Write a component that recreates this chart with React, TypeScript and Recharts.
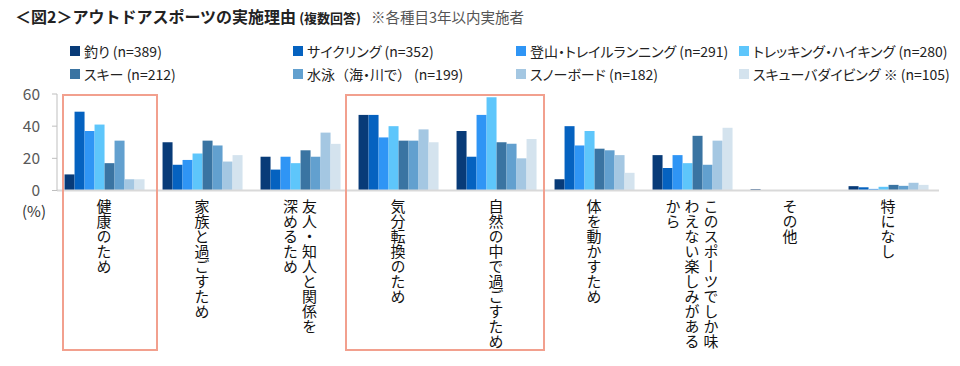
import { BarChart, Bar, XAxis, YAxis } from "recharts";

const categories = [
  "健康のため",
  "家族と過ごすため",
  "友人・知人と関係を\n深めるため",
  "気分転換のため",
  "自然の中で過ごすため",
  "体を動かすため",
  "このスポーツでしか味\nわえない楽しみがある\nから",
  "その他",
  "特になし",
];

const seriesNames = [
  "釣り (n=389)",
  "サイクリング (n=352)",
  "登山・トレイルランニング (n=291)",
  "トレッキング・ハイキング (n=280)",
  "スキー (n=212)",
  "水泳（海・川で） (n=199)",
  "スノーボード (n=182)",
  "スキューバダイビング ※ (n=105)",
];

const fishing = [10, 30, 21, 47, 37, 7, 22, 0.8, 2.7];
const cycling = [49, 16, 13, 47, 21, 40, 14, 0, 2];
const mountain = [37, 19, 21, 33, 47, 28, 22, 0, 1];
const trekking = [41, 23, 17, 40, 58, 37, 17, 0, 2.3];
const ski = [17, 31, 25, 31, 30, 26, 34, 0, 3.5];
const swim = [31, 28, 21, 31, 29, 25, 16, 0, 2.9];
const snowboard = [7, 18, 36, 38, 20, 22, 31, 0, 4.8];
const scuba = [7, 22, 29, 30, 32, 11, 39, 0, 3.5];

const yTicks = [0, 20, 40, 60];

const COLORS = [
  "#083b78",
  "#0562c0",
  "#2f95f5",
  "#5ec6fb",
  "#3a74a2",
  "#62a0cf",
  "#a4c7e2",
  "#d4e3ee",
];

const allSeries = [fishing, cycling, mountain, trekking, ski, swim, snowboard, scuba];

const data = categories.map((name, i) => {
  const row: Record<string, number | string> = { name };
  allSeries.forEach((s, k) => {
    row[`s${k}`] = s[i];
  });
  return row;
});

const FONT = "'Noto Sans CJK JP', 'Noto Sans', sans-serif";
const PLOT_LEFT = 57;
const PLOT_RIGHT = 939;
const PLOT_TOP = 94;
const PLOT_BOTTOM = 190.5;

// highlight frames around 健康のため and 気分転換/自然の中で
const frames = [
  { left: 62, right: 158 },
  { left: 345, right: 545 },
];

function CategoryTick(props: any) {
  const { x, y, payload } = props;
  const lines = String(payload.value).split("\n");
  const n = lines.length;
  return (
    <g>
      {lines.map((line, i) => (
        <text
          key={i}
          x={x - 2 + ((n - 1) / 2 - i) * 19}
          y={y}
          fill="#111"
          fontSize={15}
          fontFamily={FONT}
          style={{ writingMode: "vertical-rl" }}
        >
          {line}
        </text>
      ))}
    </g>
  );
}

// full-width brackets keep their full width, the rest is set proportional
function LegendLabel({ text }: { text: string }) {
  const parts = text.split(/([（）])/);
  return (
    <span>
      {parts.map((p, i) =>
        p === "（" || p === "）" ? (
          <span key={i} style={{ fontFeatureSettings: "normal" }}>
            {p}
          </span>
        ) : (
          <span key={i}>{p}</span>
        )
      )}
    </span>
  );
}

export default function App() {
  return (
    <div
      style={{
        position: "absolute",
        left: 0,
        top: 0,
        width: 960,
        height: 366,
        background: "#fff",
        fontFamily: FONT,
      }}
    >
      <div
        style={{
          position: "absolute",
          left: 15,
          top: 4,
          whiteSpace: "nowrap",
          color: "#222",
        }}
      >
        <span style={{ fontSize: 16, fontWeight: 700 }}>
          ＜図2＞アウトドアスポーツの実施理由
        </span>
        <span style={{ fontSize: 13, fontWeight: 700, marginLeft: 3 }}>
          (複数回答)
        </span>
        <span style={{ fontSize: 14.5, color: "#555", marginLeft: 10 }}>
          ※各種目3年以内実施者
        </span>
      </div>

      <div
        style={{
          position: "absolute",
          left: 70,
          top: 41,
          display: "grid",
          gridTemplateColumns: "223px 223px 223px 223px",
          rowGap: 4,
          fontSize: 14,
          color: "#222",
          fontFeatureSettings: "'palt'",
        }}
      >
        {seriesNames.map((s, i) => (
          <div
            key={s}
            style={{ display: "flex", alignItems: "center", whiteSpace: "nowrap", height: 19 }}
          >
            <span
              style={{
                width: 10,
                height: 10,
                background: COLORS[i],
                marginRight: 4,
                display: "inline-block",
              }}
            ></span>
            <LegendLabel text={s} />
          </div>
        ))}
      </div>

      <BarChart
        width={960}
        height={366}
        data={data}
        margin={{ top: PLOT_TOP, right: 960 - PLOT_RIGHT, bottom: 366 - PLOT_BOTTOM - 170, left: PLOT_LEFT - 40 }}
        barCategoryGap="7.7%"
        barGap={0}
        style={{ position: "absolute", left: 0, top: 0 }}
      >
        <XAxis
          dataKey="name"
          interval={0}
          height={170}
          tickLine={false}
          axisLine={{ stroke: "#d9d9d9", strokeWidth: 2 }}
          tick={<CategoryTick />}
        />
        <YAxis
          width={40}
          domain={[0, 60]}
          ticks={yTicks}
          tickSize={5}
          tickMargin={12}
          axisLine={{ stroke: "#bfbfbf" }}
          tickLine={{ stroke: "#bfbfbf" }}
          tick={{ fill: "#595959", fontSize: 15.5, fontFamily: FONT }}
        />
        {allSeries.map((_, k) => (
          <Bar
            key={k}
            dataKey={`s${k}`}
            fill={COLORS[k]}
            isAnimationActive={false}
          />
        ))}
      </BarChart>

      <div
        style={{
          position: "absolute",
          left: 22,
          top: 203,
          fontSize: 15,
          lineHeight: 1,
          color: "#333",
        }}
      >
        (%)
      </div>

      {frames.map((f, i) => (
        <div
          key={i}
          style={{
            position: "absolute",
            left: f.left,
            top: PLOT_TOP,
            width: f.right - f.left,
            height: 351 - PLOT_TOP,
            border: "2px solid #f2a08e",
            boxSizing: "border-box",
          }}
        ></div>
      ))}
    </div>
  );
}
